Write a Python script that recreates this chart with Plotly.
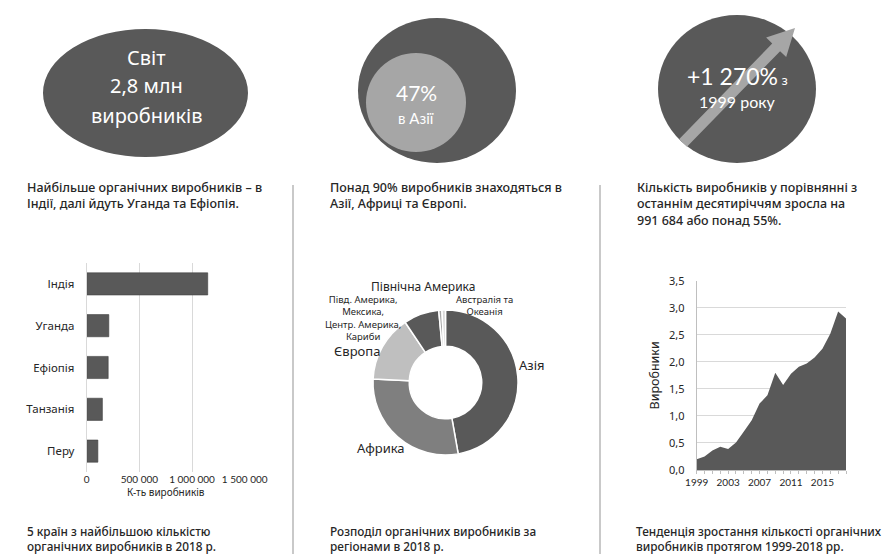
import plotly.graph_objects as go

W, H = 883, 554

# ---- data ----
countries = ["Індія", "Уганда", "Ефіопія", "Танзанія", "Перу"]
producers_by_country = [1149000, 210000, 204000, 149000, 106000]
bar_ticks = [0, 500000, 1000000, 1500000]
bar_tick_text = ["0", "500 000", "1 000 000", "1 500 000"]

regions = ["Азія", "Африка", "Європа",
           "Півд. Америка, Мексика, Центр. Америка, Кариби",
           "Північна Америка", "Австралія та Океанія"]
producers_by_region = [1331000, 806000, 418000, 223000, 20000, 22000]
region_colors = ["#595959", "#7f7f7f", "#bfbfbf", "#595959", "#a6a6a6", "#d9d9d9"]

years = list(range(1999, 2019))
producers_mln = [0.20, 0.25, 0.36, 0.43, 0.39, 0.51, 0.71, 0.92, 1.23, 1.38,
                 1.80, 1.57, 1.78, 1.91, 1.97, 2.08, 2.24, 2.52, 2.93, 2.80]
area_yticks = [0, 0.5, 1.0, 1.5, 2.0, 2.5, 3.0, 3.5]
area_ytext = ["0,0", "0,5", "1,0", "1,5", "2,0", "2,5", "3,0", "3,5"]
year_labels = ["1999", "2003", "2007", "2011", "2015"]

DARK = "#595959"
LIGHT = "#a6a6a6"
TXT = "#262626"
GRID = "#d9d9d9"
FONT = "Noto Sans"
GILL = "Lato"


def px(x):
    return x / W


def py(y):
    return 1 - y / H


fig = go.Figure()

# ---- top 5 countries (horizontal bars) ----
fig.add_trace(go.Bar(
    x=producers_by_country, y=countries, orientation="h",
    marker=dict(color=DARK, line=dict(color="#404040", width=0.6)),
    width=0.53, xaxis="x", yaxis="y", showlegend=False, hoverinfo="x+y",
))

# ---- regional split (donut) ----
fig.add_trace(go.Pie(
    labels=regions, values=producers_by_region, hole=0.5, sort=False,
    direction="clockwise", rotation=0,
    marker=dict(colors=region_colors, line=dict(color="white", width=1.5)),
    textinfo="none", showlegend=False, automargin=False,
    domain=dict(x=[px(373), px(518)], y=[py(455), py(310)]),
))

# ---- growth trend (area) ----
fig.add_trace(go.Scatter(
    x=years, y=producers_mln, mode="lines", fill="tozeroy",
    line=dict(width=0, color=DARK), fillcolor=DARK,
    xaxis="x2", yaxis="y2", showlegend=False,
))

year_ticktext = [str(y) if str(y) in year_labels else "" for y in years]

fig.update_layout(
    width=W, height=H,
    margin=dict(l=0, r=0, t=0, b=0, autoexpand=False),
    paper_bgcolor="white", plot_bgcolor="white",
    font=dict(family=FONT, color=TXT),
    xaxis=dict(
        domain=[px(86.7), px(244.7)], range=[0, 1500000],
        tickvals=bar_ticks, ticktext=bar_tick_text,
        showgrid=True, gridcolor=GRID, gridwidth=1,
        zeroline=False, showline=False, automargin=False,
        tickfont=dict(size=10, color=TXT, family=GILL),
        title=dict(text="К-ть виробників", font=dict(size=10, color=TXT), standoff=4),
        fixedrange=True,
    ),
    yaxis=dict(
        domain=[py(472), py(263)],
        categoryorder="array", categoryarray=countries, autorange="reversed",
        ticks="outside", ticklen=9, tickcolor="rgba(0,0,0,0)",
        tickfont=dict(size=11.5, color=TXT), automargin=False,
        showline=True, linecolor=GRID, linewidth=1,
        showgrid=False, zeroline=False, fixedrange=True,
    ),
    xaxis2=dict(
        domain=[px(696.7), px(846)], range=[1999, 2018],
        tickvals=years, ticktext=year_ticktext,
        ticks="outside", ticklen=3, tickcolor="#bfbfbf",
        showline=True, linecolor="#bfbfbf", linewidth=1,
        showgrid=False, zeroline=False, automargin=False,
        tickfont=dict(size=10, color=TXT, family=GILL),
        anchor="y2", fixedrange=True,
    ),
    yaxis2=dict(
        domain=[py(470), py(280.7)], range=[0, 3.5],
        tickvals=area_yticks, ticktext=area_ytext,
        showgrid=True, gridcolor=GRID, gridwidth=1,
        showline=True, linecolor="#bfbfbf", linewidth=1,
        ticks="outside", ticklen=9, tickcolor="rgba(0,0,0,0)",
        zeroline=False, automargin=False,
        tickfont=dict(size=11, color=TXT),
        title=dict(text="Виробники", font=dict(size=12.5, color=TXT), standoff=6),
        anchor="x2", fixedrange=True,
    ),
)

shapes = []
# top figures
shapes.append(dict(type="circle", xref="paper", yref="paper",
                   x0=px(43), x1=px(248), y0=py(29), y1=py(157),
                   fillcolor=DARK, line=dict(width=0)))
shapes.append(dict(type="circle", xref="paper", yref="paper",
                   x0=px(358), x1=px(516), y0=py(18), y1=py(163),
                   fillcolor=DARK, line=dict(width=0)))
shapes.append(dict(type="circle", xref="paper", yref="paper",
                   x0=px(366), x1=px(466), y0=py(53), y1=py(152),
                   fillcolor=LIGHT, line=dict(width=0)))
shapes.append(dict(type="circle", xref="paper", yref="paper",
                   x0=px(658), x1=px(816), y0=py(15), y1=py(163),
                   fillcolor=DARK, line=dict(width=0)))

# rising arrow across the third circle
tail = (683.0, 143.0)
tip = (795.0, 28.0)
dx, dy = tip[0] - tail[0], tip[1] - tail[1]
ln = (dx * dx + dy * dy) ** 0.5
ux, uy = dx / ln, dy / ln
nx, ny = -uy, ux
shaft, head_w, head_l = 5.5, 14.0, 27.0
bx, by = tip[0] - head_l * ux, tip[1] - head_l * uy
pts = [
    (tail[0] + shaft * nx, tail[1] + shaft * ny),
    (bx + shaft * nx, by + shaft * ny),
    (bx + head_w * nx, by + head_w * ny),
    tip,
    (bx - head_w * nx, by - head_w * ny),
    (bx - shaft * nx, by - shaft * ny),
    (tail[0] - shaft * nx, tail[1] - shaft * ny),
]
path = "M " + " L ".join(f"{px(a):.5f},{py(b):.5f}" for a, b in pts) + " Z"
shapes.append(dict(type="path", xref="paper", yref="paper", path=path,
                   fillcolor=LIGHT, line=dict(width=0)))

# column separators
for xs in (293, 600):
    shapes.append(dict(type="line", xref="paper", yref="paper",
                       x0=px(xs), x1=px(xs), y0=py(185), y1=py(555),
                       line=dict(color="#c9c9c9", width=2)))
fig.update_layout(shapes=shapes)

ann = []


def text(x, y, s, size, color=TXT, xanchor="center", family=FONT, weight=None,
         align="center"):
    f = dict(size=size, color=color, family=family)
    if weight:
        f["weight"] = weight
    ann.append(dict(x=px(x), y=py(y), xref="paper", yref="paper", text=s,
                    showarrow=False, xanchor=xanchor, yanchor="middle",
                    font=f, align=align))


# circle texts
text(146, 57, "Світ", 20, "white")
text(146, 86, "2,8 млн", 20, "white")
text(146, 115, "виробників", 20, "white")
text(416, 92, "47%", 21, "white", family=GILL)
text(416, 118, "в Азії", 15, "white", family=GILL)
text(737, 76, "+1 270%<span style='font-size:14px'> з</span>", 23, "white", family=GILL)
text(737, 102, "1999 року", 16, "white", family=GILL)

# captions under the circles
cap = 12.5
text(25, 196, "Найбільше органічних виробників – в<br>Індії, далі йдуть Уганда та Ефіопія.",
     cap, xanchor="left", weight=500, align="left")
text(328, 196, "Понад 90% виробників знаходяться в<br>Азії, Африці та Європі.",
     cap, xanchor="left", weight=500, align="left")
text(635, 204, "Кількість виробників у порівнянні з<br>останнім десятиріччям зросла на"
     "<br>991 684 або понад 55%.", cap, xanchor="left", weight=500, align="left")

# captions under the charts
cap2 = 11.8
text(25, 538.5, "5 країн з найбільшою кількістю<br>органічних виробників в 2018 р.",
     cap2, xanchor="left", weight=500, align="left")
text(328, 538.5, "Розподіл органічних виробників за<br>регіонами в 2018 р.",
     cap2, xanchor="left", weight=500, align="left")
text(634, 538.5, "Тенденція зростання кількості органічних<br>виробників протягом 1999-2018 рр.",
     cap2, xanchor="left", weight=500, align="left")

# donut labels
text(532, 365, "Азія", 13)
text(381, 448, "Африка", 13)
text(357, 351, "Європа", 13)
text(363, 318, "Півд. Америка,<br>Мексика,<br>Центр. Америка,<br>Кариби", 9.5)
text(423, 286, "Північна Америка", 12)
text(484, 305, "Австралія та<br>Океанія", 9.5)

fig.update_layout(annotations=ann)

fig.write_html("out.html")
